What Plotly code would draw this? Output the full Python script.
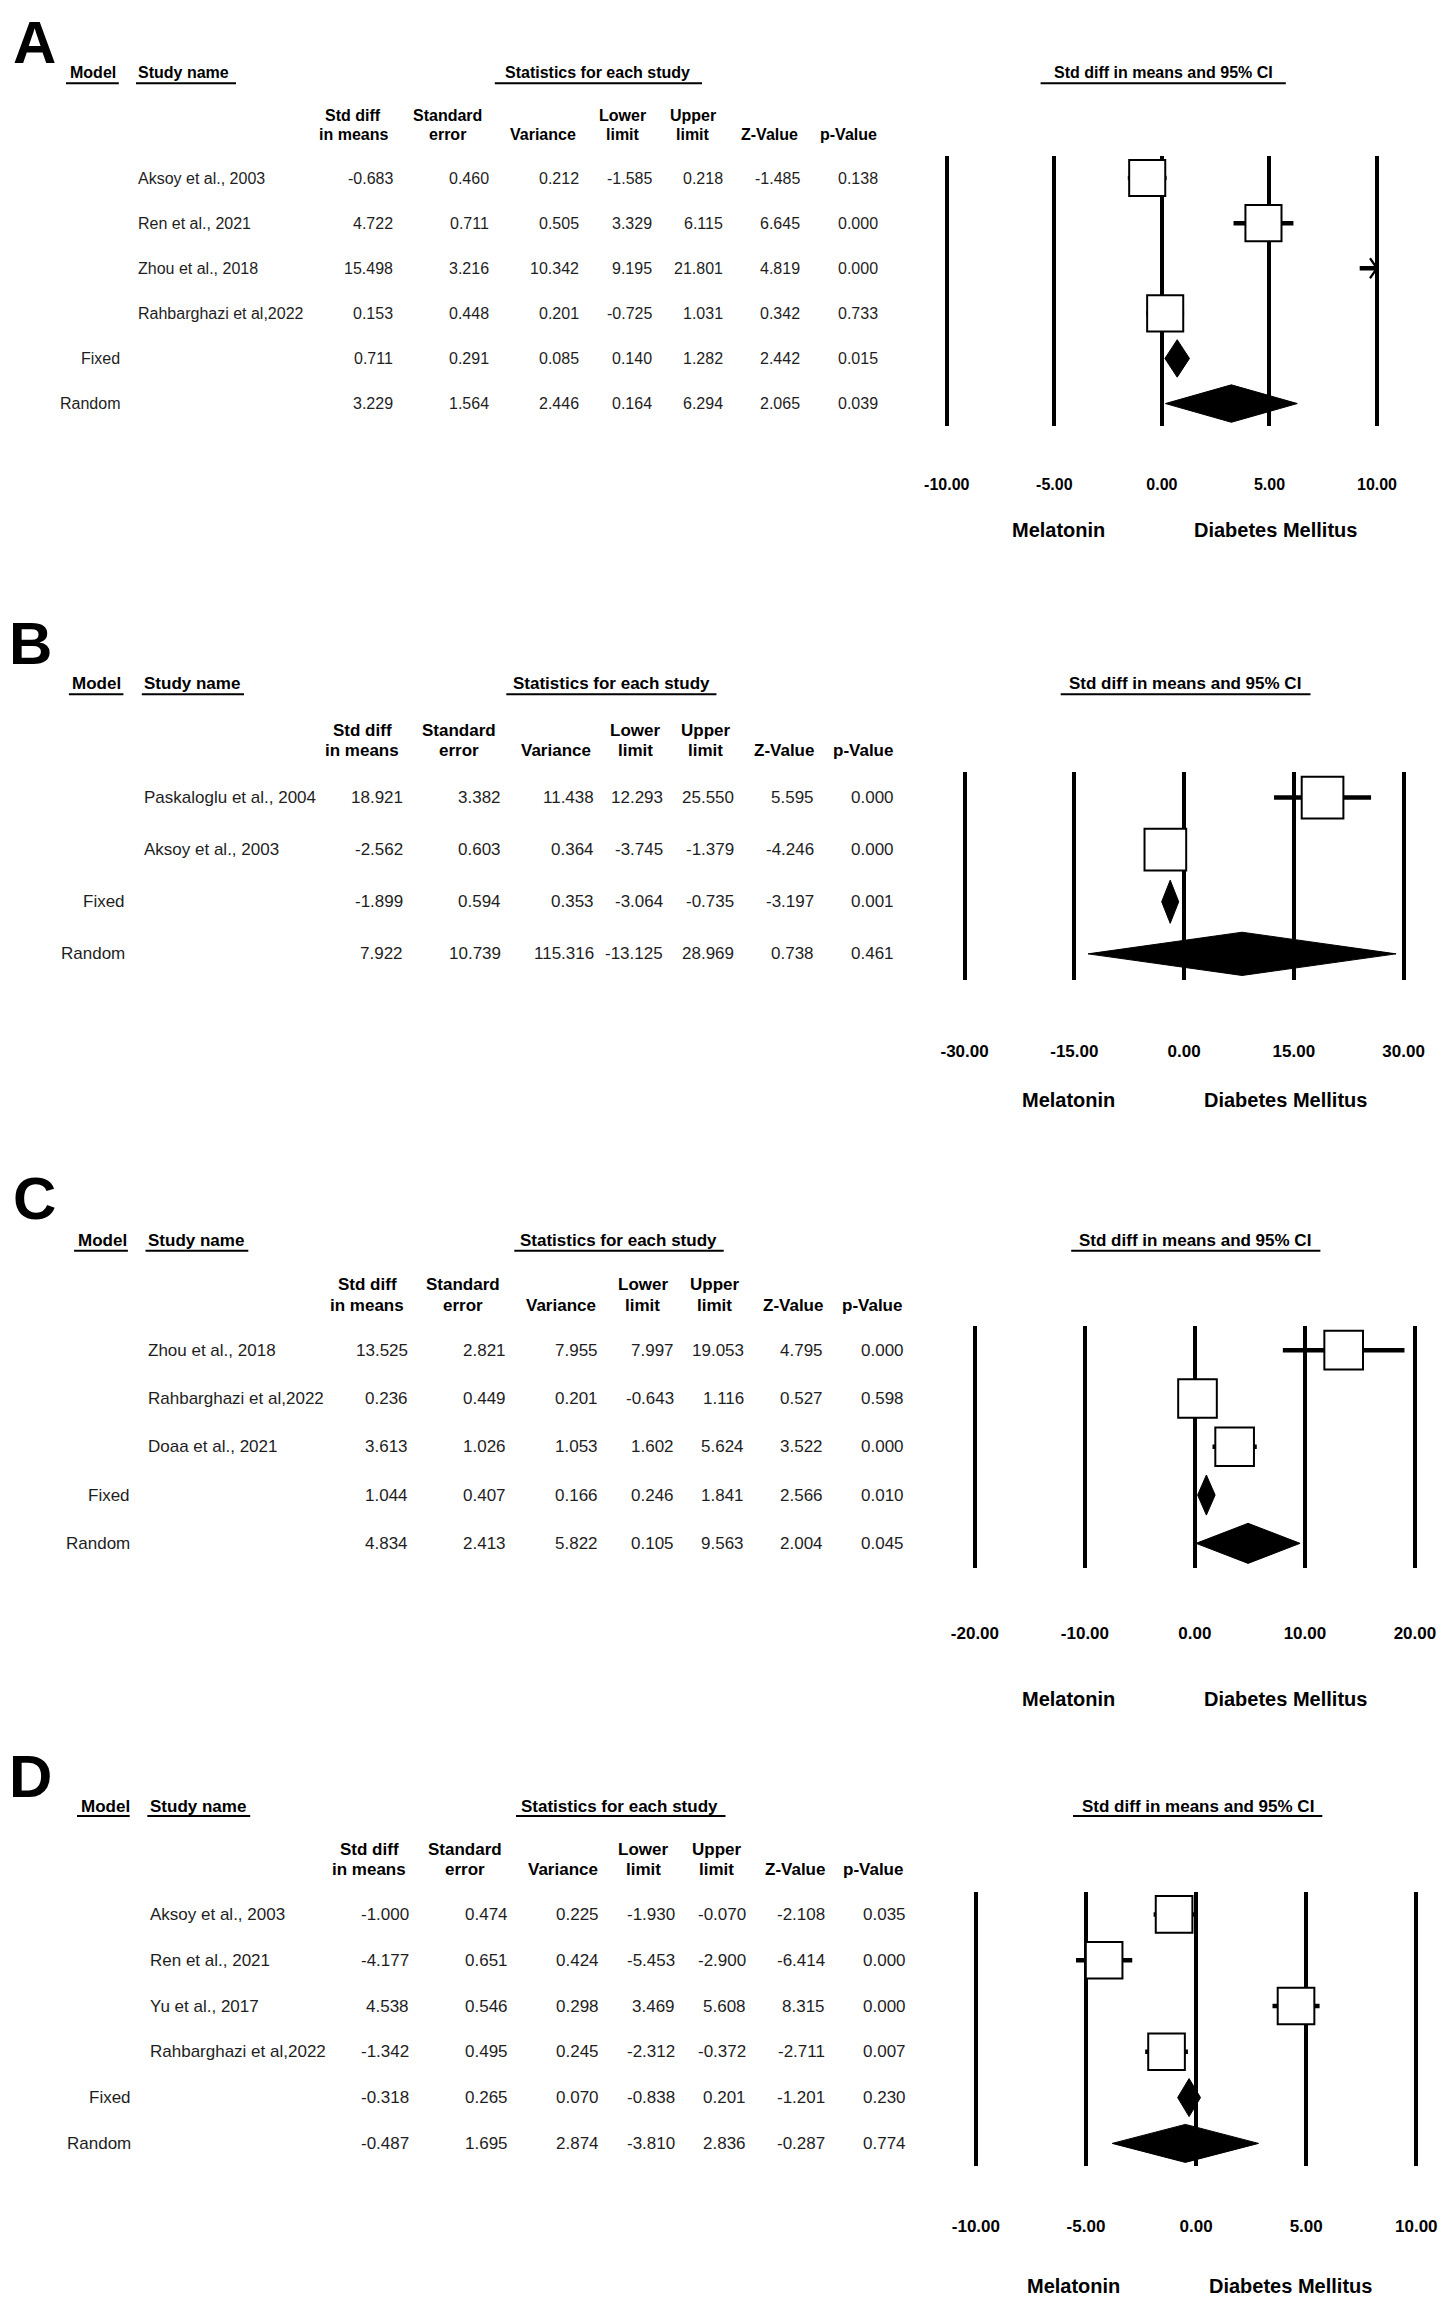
import plotly.graph_objects as go

# reference page size and the browser's default body margin (page offset of the figure)
PAGE_W, PAGE_H = 1453, 2302
OFF = 8
W, H = PAGE_W - OFF, PAGE_H - OFF
FONT = "Liberation Sans, Arial, sans-serif"

# ---------------- data ----------------
COL_HEAD_1 = ["Std diff", "Standard", "", "Lower", "Upper", "", ""]
COL_HEAD_2 = ["in means", "error", "Variance", "limit", "limit", "Z-Value", "p-Value"]
MODEL_LABELS = ["Fixed", "Random"]
LEFT_LABEL = "Melatonin"
RIGHT_LABEL = "Diabetes Mellitus"

# Panel A
A_studies = ["Aksoy et al., 2003", "Ren et al., 2021", "Zhou et al., 2018", "Rahbarghazi et al,2022"]
A_smd = [-0.683, 4.722, 15.498, 0.153]
A_se = [0.460, 0.711, 3.216, 0.448]
A_var = [0.212, 0.505, 10.342, 0.201]
A_lo = [-1.585, 3.329, 9.195, -0.725]
A_hi = [0.218, 6.115, 21.801, 1.031]
A_z = [-1.485, 6.645, 4.819, 0.342]
A_p = [0.138, 0.000, 0.000, 0.733]
A_fixed = [0.711, 0.291, 0.085, 0.140, 1.282, 2.442, 0.015]
A_random = [3.229, 1.564, 2.446, 0.164, 6.294, 2.065, 0.039]
A_limit = 10

# Panel B
B_studies = ["Paskaloglu et al., 2004", "Aksoy et al., 2003"]
B_smd = [18.921, -2.562]
B_se = [3.382, 0.603]
B_var = [11.438, 0.364]
B_lo = [12.293, -3.745]
B_hi = [25.550, -1.379]
B_z = [5.595, -4.246]
B_p = [0.000, 0.000]
B_fixed = [-1.899, 0.594, 0.353, -3.064, -0.735, -3.197, 0.001]
B_random = [7.922, 10.739, 115.316, -13.125, 28.969, 0.738, 0.461]
B_limit = 30

# Panel C
C_studies = ["Zhou et al., 2018", "Rahbarghazi et al,2022", "Doaa et al., 2021"]
C_smd = [13.525, 0.236, 3.613]
C_se = [2.821, 0.449, 1.026]
C_var = [7.955, 0.201, 1.053]
C_lo = [7.997, -0.643, 1.602]
C_hi = [19.053, 1.116, 5.624]
C_z = [4.795, 0.527, 3.522]
C_p = [0.000, 0.598, 0.000]
C_fixed = [1.044, 0.407, 0.166, 0.246, 1.841, 2.566, 0.010]
C_random = [4.834, 2.413, 5.822, 0.105, 9.563, 2.004, 0.045]
C_limit = 20

# Panel D
D_studies = ["Aksoy et al., 2003", "Ren et al., 2021", "Yu et al., 2017", "Rahbarghazi et al,2022"]
D_smd = [-1.000, -4.177, 4.538, -1.342]
D_se = [0.474, 0.651, 0.546, 0.495]
D_var = [0.225, 0.424, 0.298, 0.245]
D_lo = [-1.930, -5.453, 3.469, -2.312]
D_hi = [-0.070, -2.900, 5.608, -0.372]
D_z = [-2.108, -6.414, 8.315, -2.711]
D_p = [0.035, 0.000, 0.000, 0.007]
D_fixed = [-0.318, 0.265, 0.070, -0.838, 0.201, -1.201, 0.230]
D_random = [-0.487, 1.695, 2.874, -3.810, 2.836, -0.287, 0.774]
D_limit = 10

# ---------------- geometry (page pixels) ----------------
panels = [
    dict(letter="A", data=(A_studies, A_smd, A_se, A_var, A_lo, A_hi, A_z, A_p, A_fixed, A_random), lim=A_limit,
         let_x=12, let_y=None, head_y=72.7, ul_y=83.3, ch1=115.7, ch2=135.0, top=155.5, rh=45.1, fs=16,
         model_left=67.7, study_left=136, model_right=122.3,
         centers=[353, 447, 542.5, 622.8, 693, 769, 848], rights=[395, 490.8, 581, 654.4, 724.5, 802, 880],
         stats_c=597.9, stats_ul=(494.8, 702), model_ul=(66, 118.8), study_ul=(136, 236),
         zero=1161.9, ppu=21.51, fh_c=1163.3, fh_ul=(1040.6, 1285.8), tick_y=485, lab_y=530, lab_l=1058.2, lab_r=1275.3),
    dict(letter="B", data=(B_studies, B_smd, B_se, B_var, B_lo, B_hi, B_z, B_p, B_fixed, B_random), lim=B_limit,
         let_x=8, let_y=643, head_y=683.3, ul_y=694.3, ch1=730.7, ch2=750.7, top=771.5, rh=52.1, fs=17,
         model_left=70, study_left=141.8, model_right=127.4,
         centers=[362.2, 459.2, 556.3, 635, 705.5, 783.6, 862.8], rights=[404.7, 503.4, 595.9, 664.8, 736, 816.3, 895.5],
         stats_c=611, stats_ul=(506.3, 716.4), model_ul=(68.9, 123.4), study_ul=(141.8, 244),
         zero=1184.1, ppu=7.317, fh_c=1184.8, fh_ul=(1060.7, 1310.5), tick_y=1051.7, lab_y=1100, lab_l=1068.2, lab_r=1285.3),
    dict(letter="C", data=(C_studies, C_smd, C_se, C_var, C_lo, C_hi, C_z, C_p, C_fixed, C_random), lim=C_limit,
         let_x=12, let_y=1198.7, head_y=1240.7, ul_y=1250.7, ch1=1284.6, ch2=1305.0, top=1326, rh=48.3, fs=17,
         model_left=76, study_left=146.4, model_right=131.6,
         centers=[367.4, 463.3, 561, 642.6, 714.9, 792.7, 872.4], rights=[409.6, 507.8, 599.5, 675.5, 745.9, 824.7, 906.2],
         stats_c=618.5, stats_ul=(514.3, 723.7), model_ul=(74.1, 127.9), study_ul=(145.5, 248.3),
         zero=1194.9, ppu=11.0, fh_c=1195.3, fh_ul=(1071.2, 1320.4), tick_y=1633.6, lab_y=1698.6, lab_l=1068.4, lab_r=1285.2),
    dict(letter="D", data=(D_studies, D_smd, D_se, D_var, D_lo, D_hi, D_z, D_p, D_fixed, D_random), lim=D_limit,
         let_x=8, let_y=1776.7, head_y=1806.3, ul_y=1816, ch1=1849.3, ch2=1869.7, top=1891.5, rh=45.8, fs=17,
         model_left=78.8, study_left=148.3, model_right=133.4,
         centers=[369.3, 465.2, 563, 643, 716.7, 795, 873.3], rights=[411.4, 509.6, 601.4, 677.4, 747.8, 826.5, 908],
         stats_c=619.4, stats_ul=(516, 725.5), model_ul=(77, 129.7), study_ul=(147.3, 250.2),
         zero=1196.1, ppu=22.02, fh_c=1197.7, fh_ul=(1073, 1322.3), tick_y=2226.7, lab_y=2285.5, lab_l=1073, lab_r=1290.8),
]


def fx(p):
    return (p - OFF) / W


def fy(p):
    return 1 - (p - OFF) / H


fig = go.Figure()
annotations = []
shapes = []
layout_axes = {}

for k, P in enumerate(panels, start=1):
    studies, smd, se, var, lo, hi, zv, pv, fixed, rand = P["data"]
    lim = P["lim"]
    ns = len(studies)
    n = ns + 2
    xa = "x" if k == 1 else f"x{k}"
    ya = "y" if k == 1 else f"y{k}"
    xkey = "xaxis" if k == 1 else f"xaxis{k}"
    ykey = "yaxis" if k == 1 else f"yaxis{k}"
    fs = P["fs"]
    bottom = P["top"] + n * P["rh"]
    pad = 0.12 * lim
    half = (lim + pad) * P["ppu"]
    ticklen = P["tick_y"] - bottom - 10 - 0.34 * fs

    tickvals = [-lim, -lim / 2, 0, lim / 2, lim]
    layout_axes[xkey] = dict(
        domain=[fx(P["zero"] - half), fx(P["zero"] + half)], range=[-lim - pad, lim + pad],
        anchor=ya, tickvals=tickvals, ticktext=[f"{v:.2f}" for v in tickvals],
        showgrid=True, gridcolor="black", gridwidth=4, zeroline=False, showline=False,
        ticks="outside", ticklen=ticklen, tickcolor="rgba(0,0,0,0)",
        tickfont=dict(family=FONT, size=fs, color="black", weight="bold"), fixedrange=True)
    layout_axes[ykey] = dict(
        domain=[fy(bottom), fy(P["top"])], range=[n - 0.5, -0.5], anchor=xa,
        showgrid=False, zeroline=False, showticklabels=False, showline=False, ticks="", fixedrange=True)

    # CI lines (clipped at axis limits) and arrows for clipped ends
    cx, cy, ax_, ay_ = [], [], [], []
    dx = 7 / P["ppu"]
    dy = 10 / P["rh"]
    for i in range(ns):
        a, b = max(lo[i], -lim), min(hi[i], lim)
        cx += [a, b, None]
        cy += [i, i, None]
        if hi[i] > lim:
            ax_ += [lim - dx, lim, lim - dx, None]
            ay_ += [i - dy, i, i + dy, None]
        if lo[i] < -lim:
            ax_ += [-lim + dx, -lim, -lim + dx, None]
            ay_ += [i - dy, i, i + dy, None]
    fig.add_trace(go.Scatter(x=cx, y=cy, xaxis=xa, yaxis=ya, mode="lines",
                             line=dict(color="black", width=4.5), hoverinfo="skip"))
    if ax_:
        fig.add_trace(go.Scatter(x=ax_, y=ay_, xaxis=xa, yaxis=ya, mode="lines",
                                 line=dict(color="black", width=2.2), hoverinfo="skip"))
    # squares
    sx = [smd[i] for i in range(ns) if -lim <= smd[i] <= lim]
    sy = [i for i in range(ns) if -lim <= smd[i] <= lim]
    fig.add_trace(go.Scatter(x=sx, y=sy, xaxis=xa, yaxis=ya, mode="markers",
                             marker=dict(symbol="square", size=0.8 * P["rh"], color="white",
                                         line=dict(color="black", width=2)), hoverinfo="skip"))
    # diamonds
    hh = 0.415
    dxs, dys = [], []
    for j, row in enumerate([fixed, rand]):
        r = ns + j
        m, l, u = row[0], row[3], row[4]
        dxs += [l, m, u, m, l, None]
        dys += [r, r - hh, r, r + hh, r, None]
    fig.add_trace(go.Scatter(x=dxs, y=dys, xaxis=xa, yaxis=ya, mode="lines", fill="toself",
                             fillcolor="black", line=dict(color="black", width=1), hoverinfo="skip"))

    # ---------- text ----------
    def ann(text, x, y, xanchor="left", size=fs, bold=False, color="#1e1e1e", yref="paper",
            yanchor="middle", borderpad=1):
        annotations.append(dict(text=text, x=x, y=y, xref="paper", yref=yref, xanchor=xanchor,
                                yanchor=yanchor, showarrow=False, borderpad=borderpad,
                                font=dict(family=FONT, size=size, color=color,
                                          weight="bold" if bold else "normal")))

    if P["let_y"] is None:
        ann(P["letter"], fx(P["let_x"]), 1.0, size=60, bold=True, color="black", yanchor="top", borderpad=0)
    else:
        ann(P["letter"], fx(P["let_x"]), fy(P["let_y"]), size=60, bold=True, color="black", borderpad=0)
    ann("Model", fx(P["model_left"]), fy(P["head_y"]), bold=True, color="black")
    ann("Study name", fx(P["study_left"]), fy(P["head_y"]), bold=True, color="black")
    ann("Statistics for each study", fx(P["stats_c"]), fy(P["head_y"]), xanchor="center", bold=True, color="black")
    ann("Std diff in means and 95% CI", fx(P["fh_c"]), fy(P["head_y"]), xanchor="center", bold=True, color="black")
    for (x0, x1) in [P["model_ul"], P["study_ul"], P["stats_ul"], P["fh_ul"]]:
        shapes.append(dict(type="line", xref="paper", yref="paper", x0=fx(x0), x1=fx(x1),
                           y0=fy(P["ul_y"]), y1=fy(P["ul_y"]), line=dict(color="black", width=2)))
    for c, t1, t2 in zip(P["centers"], COL_HEAD_1, COL_HEAD_2):
        if t1:
            ann(t1, fx(c), fy(P["ch1"]), xanchor="center", bold=True, color="black")
        ann(t2, fx(c), fy(P["ch2"]), xanchor="center", bold=True, color="black")

    rows = []
    for i in range(ns):
        rows.append(("", studies[i], [smd[i], se[i], var[i], lo[i], hi[i], zv[i], pv[i]]))
    rows.append((MODEL_LABELS[0], "", fixed))
    rows.append((MODEL_LABELS[1], "", rand))
    for i, (mlab, sname, vals) in enumerate(rows):
        if mlab:
            ann(mlab, fx(P["model_right"]), i, xanchor="right", yref=ya)
        if sname:
            ann(sname, fx(P["study_left"]), i, yref=ya)
        for rgt, v in zip(P["rights"], vals):
            ann(f"{v:.3f}", fx(rgt), i, xanchor="right", yref=ya)

    ann(LEFT_LABEL, fx(P["lab_l"]), fy(P["lab_y"]), xanchor="center", size=20, bold=True, color="black")
    ann(RIGHT_LABEL, fx(P["lab_r"]), fy(P["lab_y"]), xanchor="center", size=20, bold=True, color="black")

fig.update_layout(width=W, height=H, margin=dict(l=0, r=0, t=0, b=0), showlegend=False,
                  paper_bgcolor="white", plot_bgcolor="white", annotations=annotations, shapes=shapes,
                  font=dict(family=FONT), **layout_axes)
fig.write_html("out.html")
